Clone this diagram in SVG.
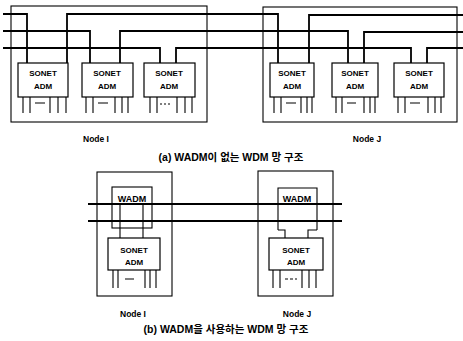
<svg xmlns="http://www.w3.org/2000/svg" width="463" height="341" viewBox="0 0 463 341">
<style>
.bx{fill:none;stroke:#000;stroke-width:1.1}
.adm{fill:#fff;stroke:#000;stroke-width:1.2}
.ln{fill:none;stroke:#000;stroke-width:1.8}
.lg{fill:none;stroke:#000;stroke-width:1.1}
.t{font-family:"Liberation Sans",Arial,sans-serif;font-weight:bold;font-size:8px;fill:#000;text-anchor:middle}
.n{font-family:"Liberation Sans",Arial,sans-serif;font-weight:bold;font-size:8.5px;fill:#000;text-anchor:middle}
.c{font-family:"Liberation Sans","Noto Sans CJK KR",sans-serif;font-weight:bold;font-size:10.5px;fill:#000;text-anchor:middle}
</style>
<rect width="463" height="341" fill="#fff"/>

<!-- (a) node boxes -->
<g id="nodeI-a">
<rect class="bx" x="11" y="6" width="196" height="116"/>
<text class="n" x="96" y="142">Node I</text>
</g>
<g id="nodeJ-a">
<rect class="bx" x="263" y="7" width="194" height="115"/>
<text class="n" x="367" y="142">Node J</text>
</g>

<!-- connectors (a) -->
<g id="connectors-a">
<path class="ln" d="M3,14 H27 V63"/>
<path class="ln" d="M67,63 V14 H278 V63"/>
<path class="ln" d="M309,63 V15 H463"/>
<path class="ln" d="M3,31 H90 V63"/>
<path class="ln" d="M120,63 V31 H348 V63"/>
<path class="ln" d="M364,63 V32 H463"/>
<path class="ln" d="M3,48 H160 V63"/>
<path class="ln" d="M176,63 V48 H411 V63"/>
<path class="ln" d="M427,63 V48 H463"/>
</g>

<!-- (a) ADMs -->
<g id="adm-I1">
<rect class="adm" x="18" y="63" width="50" height="34"/>
<text class="t" x="43" y="76">SONET</text><text class="t" x="43" y="89">ADM</text>
<path class="lg" d="M23,97V113M30,97V113M50,97V113M58,97V113M66,97V113M35,103H45"/>
</g>
<g id="adm-I2">
<rect class="adm" x="82" y="63" width="51" height="34"/>
<text class="t" x="107" y="76">SONET</text><text class="t" x="107" y="89">ADM</text>
<path class="lg" d="M86,97V113M93,97V113M115,97V113M122,97V113M128,97V113M98,103H108"/>
</g>
<g id="adm-I3">
<rect class="adm" x="144" y="63" width="51" height="34"/>
<text class="t" x="169" y="76">SONET</text><text class="t" x="169" y="89">ADM</text>
<path class="lg" d="M150,97V113M157,97V113M177,97V113M185,97V113M192,97V113"/>
<path class="lg" d="M160,104H162M164,104H166M168,104H170"/>
</g>
<g id="adm-J1">
<rect class="adm" x="270" y="63" width="44" height="34"/>
<text class="t" x="292" y="76">SONET</text><text class="t" x="292" y="89">ADM</text>
<path class="lg" d="M274,97V113M281,97V113M301,97V113M307,97V113M312,97V113M286,103H296"/>
</g>
<g id="adm-J2">
<rect class="adm" x="332" y="63" width="46" height="34"/>
<text class="t" x="355" y="76">SONET</text><text class="t" x="355" y="89">ADM</text>
<path class="lg" d="M336,97V113M342,97V113M364,97V113M370,97V113M375,97V113M347,103H356"/>
</g>
<g id="adm-J3">
<rect class="adm" x="394" y="63" width="50" height="34"/>
<text class="t" x="419" y="76">SONET</text><text class="t" x="419" y="89">ADM</text>
<path class="lg" d="M398,97V113M405,97V113M428,97V113M435,97V113M441,97V113M410,103H420"/>
</g>

<text class="c" x="231" y="161">(a) WADM이 없는 WDM 망 구조</text>

<!-- (b) -->
<g id="nodeI-b">
<rect class="bx" x="97" y="172" width="75" height="124"/>
<text class="n" x="133" y="317">Node I</text>
</g>
<g id="nodeJ-b">
<rect class="bx" x="258" y="171" width="75" height="125"/>
<text class="n" x="297" y="317">Node J</text>
</g>

<g id="wadm-I">
<rect class="bx" x="112" y="187" width="40" height="41"/>
<text class="t" x="132" y="202" style="font-size:9px">WADM</text>
</g>
<g id="wadm-J">
<path class="bx" d="M278,230 V188 H317 V230"/>
<text class="t" x="297" y="202" style="font-size:9px">WADM</text>
</g>

<g id="connectors-b">
<path class="ln" d="M88,204 H342"/>
<path class="ln" d="M88,221 H342"/>
<path class="lg" d="M120,204 V238 M143,204 V238"/>
<path class="lg" d="M278,230 H285 V238 M317,230 H308 V238"/>
</g>

<g id="adm-Ib">
<rect class="adm" x="108" y="238" width="52" height="32"/>
<text class="t" x="134" y="253">SONET</text><text class="t" x="134" y="265">ADM</text>
<path class="lg" d="M113,270V288M118,270V288M145,270V288M150,270V288M156,270V288M125,279H134"/>
</g>
<g id="adm-Jb">
<rect class="adm" x="269" y="238" width="54" height="32"/>
<text class="t" x="296" y="253">SONET</text><text class="t" x="296" y="265">ADM</text>
<path class="lg" d="M273,270V288M280,270V288M302,270V288M309,270V288M316,270V288"/>
<path class="lg" d="M285,279H288M290,279H293M295,279H297"/>
</g>

<text class="c" x="226" y="333">(b) WADM을 사용하는 WDM 망 구조</text>
</svg>
